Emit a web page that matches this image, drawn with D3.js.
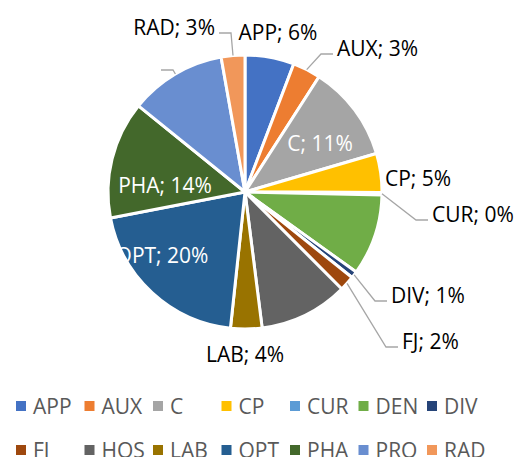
<!DOCTYPE html>
<html>
<head>
<meta charset="utf-8">
<script src="https://cdn.jsdelivr.net/npm/d3@7"></script>
<style>
  body { margin: 0; background: #fff; }
  svg { display: block; font-family: "Open Sans", sans-serif; }
</style>
</head>
<body>
<svg id="chart"></svg>
<script>
// share of each department
var categories = ["APP", "AUX", "C", "CP", "CUR", "DEN", "DIV", "FJ", "HOS", "LAB", "OPT", "PHA", "PRO", "RAD"]
var values = [5.8, 3.3, 11.4, 4.6, 0.3, 9.6, 0.8, 1.8, 10.5, 3.7, 20.3, 13.9, 11.4, 2.8]
var colors = ["#4472C4", "#ED7D31", "#A5A5A5", "#FFC000", "#5B9BD5", "#70AD47", "#264478",
              "#9E480E", "#636363", "#997300", "#255E91", "#43682B", "#698ED0", "#F1975A"]
// which slices get a visible data label
var shown = ["APP", "AUX", "C", "CP", "CUR", "DIV", "FJ", "LAB", "OPT", "PHA", "RAD"]

var dimensions = {
    width: 516,
    height: 457,
    cx: 245,
    cy: 192,
    radius: 137
}

// where the data labels sit (x, y of text middle line, anchor, inside?, leader?)
var labelLayout = {
    RAD: { x: 215, y: 27, anchor: "end", leader: true },
    APP: { x: 278, y: 32, anchor: "middle" },
    AUX: { x: 337, y: 48, anchor: "start", leader: true },
    C:   { x: 320, y: 143, anchor: "middle", inside: true },
    CP:  { x: 385, y: 178, anchor: "start" },
    CUR: { x: 432, y: 214, anchor: "start", leader: true },
    DIV: { x: 391, y: 295, anchor: "start", leader: true },
    FJ:  { x: 402, y: 341, anchor: "start", leader: true },
    LAB: { x: 245, y: 354, anchor: "middle" },
    OPT: { x: 162, y: 255, anchor: "middle", inside: true },
    PHA: { x: 165, y: 185, anchor: "middle", inside: true },
    PRO: { x: 157, y: 64, anchor: "end", leader: true }
}

var fontSize = 21
var capHalf = 7.5

var svg = d3.select("#chart")
    .attr("width", dimensions.width)
    .attr("height", dimensions.height)

var data = categories.map(function(c, i) { return { cat: c, value: values[i], color: colors[i] } })
var total = d3.sum(values)

var pie = d3.pie()
    .sort(null)
    .value(d => d.value)

var arc = d3.arc()
    .innerRadius(0)
    .outerRadius(dimensions.radius)

var arcs = pie(data)

var g = svg.append("g")
    .attr("transform", "translate(" + dimensions.cx + "," + dimensions.cy + ")")

g.selectAll("path")
    .data(arcs)
    .enter()
    .append("path")
    .attr("d", arc)
    .attr("fill", d => d.data.color)
    .attr("stroke", "#fff")
    .attr("stroke-width", 3)
    .attr("stroke-linejoin", "round")

// leader lines
arcs.forEach(function(a) {
    var lay = labelLayout[a.data.cat]
    if (!lay || !lay.leader) return
    var mid = (a.startAngle + a.endAngle) / 2
    var sx = dimensions.cx + dimensions.radius * Math.sin(mid)
    var sy = dimensions.cy - dimensions.radius * Math.cos(mid)
    var side = lay.anchor == "end" ? -1 : 1
    var ly = lay.y + 6
    var endX = lay.x - side * 4
    var elbowX = endX - side * 12
    svg.append("polyline")
        .attr("points", [[sx, sy], [elbowX, ly], [endX, ly]].map(p => p.join(",")).join(" "))
        .attr("fill", "none")
        .attr("stroke", "#A6A6A6")
        .attr("stroke-width", 1.3)
})

// data labels
arcs.forEach(function(a) {
    var lay = labelLayout[a.data.cat]
    if (!lay || shown.indexOf(a.data.cat) < 0) return
    svg.append("text")
        .attr("x", lay.x)
        .attr("y", lay.y + capHalf)
        .attr("text-anchor", lay.anchor)
        .attr("fill", lay.inside ? "#fff" : "#000")
        .style("font-size", fontSize + "px")
        .text(a.data.cat + "; " + Math.round(a.data.value / total * 100) + "%")
})

// legend, two rows of seven
var legend = svg.append("g")
var perRow = 7
var colStep = 68.5
var rowY = [406, 450]

var items = legend.selectAll("g")
    .data(data)
    .enter()
    .append("g")
    .attr("transform", (d, i) => "translate(" + (16 + (i % perRow) * colStep) + "," + rowY[Math.floor(i / perRow)] + ")")

items.append("rect")
    .attr("x", 0)
    .attr("y", -5)
    .attr("width", 10)
    .attr("height", 10)
    .attr("fill", d => d.color)

items.append("text")
    .attr("x", 17)
    .attr("y", capHalf)
    .attr("fill", "#595959")
    .style("font-size", fontSize + "px")
    .text(d => d.cat)
</script>
</body>
</html>
